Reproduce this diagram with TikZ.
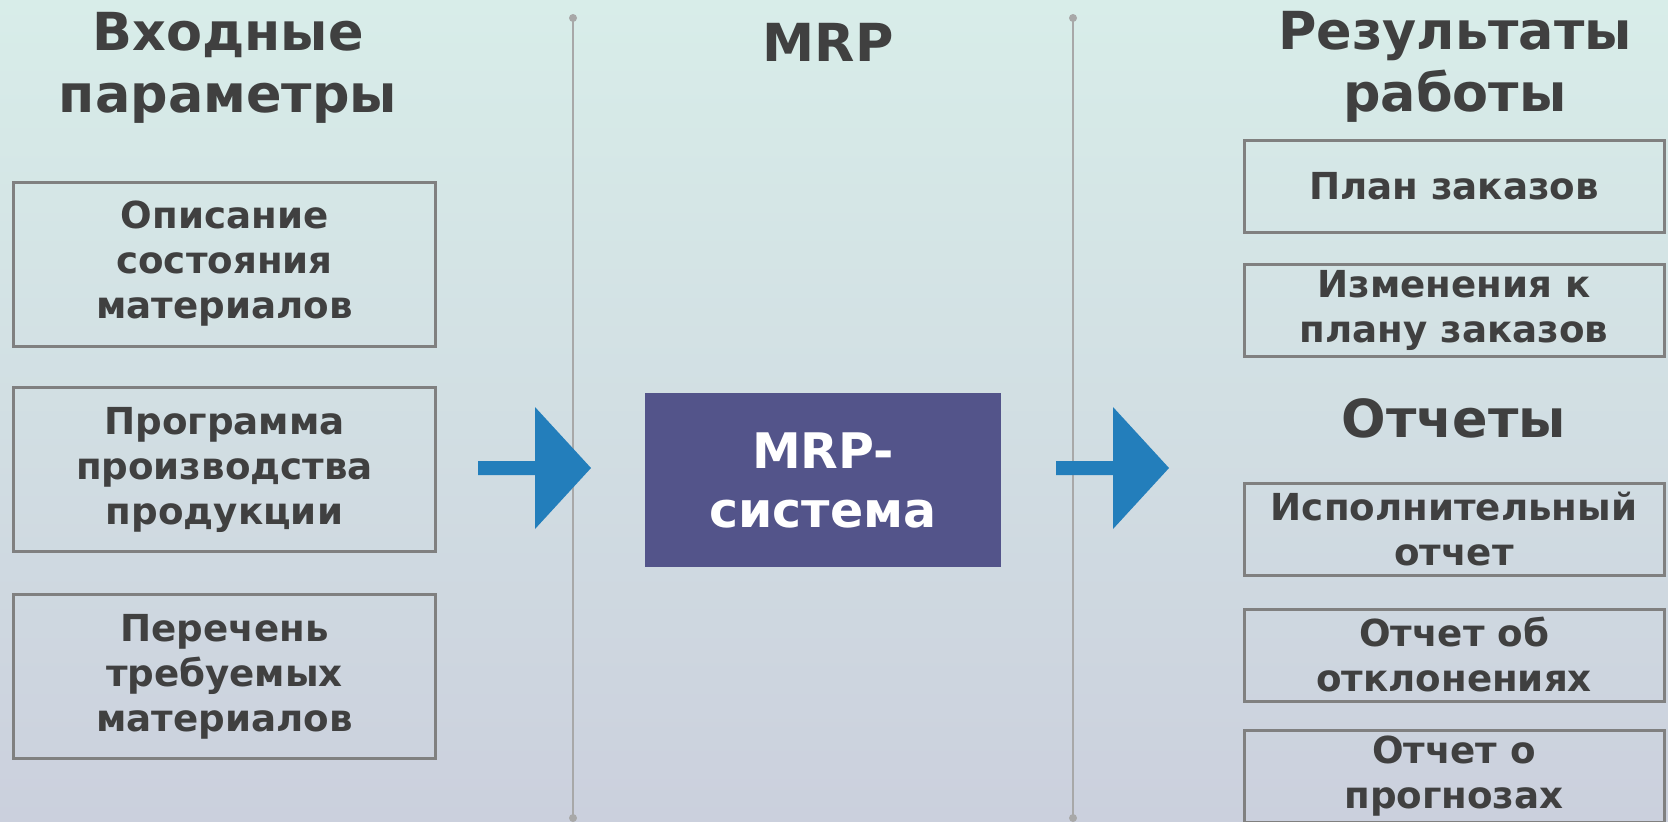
\documentclass[tikz,border=0pt]{standalone}
\usepackage{fontspec}
\setmainfont{DejaVu Sans}
\usetikzlibrary{calc}
\definecolor{bgtop}{RGB}{216,237,233}
\definecolor{bgbottom}{RGB}{203,208,221}
\definecolor{boxgray}{RGB}{128,128,128}
\definecolor{textgray}{RGB}{64,64,64}
\definecolor{mrpviolet}{RGB}{83,84,138}
\definecolor{arrowblue}{RGB}{35,126,187}
\definecolor{linegray}{RGB}{168,168,168}

\begin{document}
\begin{tikzpicture}[x=0.5pt, y=-0.5pt,
    headline/.style={text=textgray, align=center, inner sep=0pt, font=\fontsize{26.2pt}{31pt}\selectfont\bfseries},
    inbox/.style={draw=boxgray, line width=1.5pt, minimum width=211pt, minimum height=82pt, inner sep=0pt,
        text=textgray, align=center, font=\fontsize{18.6pt}{22.5pt}\selectfont\bfseries},
    outbox/.style={inbox, minimum width=210pt, minimum height=46pt},
    sysbox/.style={fill=mrpviolet, minimum width=178pt, minimum height=87pt, inner sep=0pt,
        text=white, align=center, font=\fontsize{24.5pt}{29.5pt}\selectfont\bfseries}]
        % Background
        \useasboundingbox (0,0) rectangle (1668,821);
        \clip (0,0) rectangle (1668,821);
        \shade[top color=bgtop, bottom color=bgbottom] (0,0) rectangle (1668,821);

        % Column dividers
        \coordinate (divAtop) at (573,18);
        \coordinate (divAbot) at (573,818);
        \coordinate (divBtop) at (1073,18);
        \coordinate (divBbot) at (1073,818);
        \draw[linegray, line width=1pt] (divAtop) -- (divAbot);
        \draw[linegray, line width=1pt] (divBtop) -- (divBbot);
        \foreach \p in {divAtop,divAbot,divBtop,divBbot}
            \fill[linegray] (\p) circle[radius=2pt];

        % Column headings
        \node[headline] (headIn) at (228,68) {Входные\\параметры};
        \node[headline, anchor=base] (headMrp) at (828,61) {MRP};
        \node[headline] (headOut) at (1455,67) {Результаты\\работы};
        \node[headline, anchor=base] (headRep) at (1454,437) {Отчеты};

        % Input boxes
        \node[inbox] (inState) at (224.5,264) {Описание\\состояния\\материалов};
        \node[inbox] (inProg) at (224.5,469.5) {Программа\\производства\\продукции};
        \node[inbox] (inList) at (224.5,676.5) {Перечень\\требуемых\\материалов};

        % System box
        \node[sysbox] (mrpSys) at (823,480) {MRP-\\система};

        % Output boxes
        \node[outbox] (outPlan) at (1454,186) {План заказов};
        \node[outbox] (outChange) at (1454,310.5) {Изменения к\\плану заказов};
        \node[outbox] (outExec) at (1454,529.5) {Исполнительный\\отчет};
        \node[outbox] (outDev) at (1454,655) {Отчет об\\отклонениях};
        \node[outbox] (outFcst) at (1454,776.5) {Отчет о\\прогнозах};

        % Block arrows
        \coordinate (arrAstart) at (478,468);
        \coordinate (arrBstart) at (1056,468);
        \foreach \a in {arrAstart,arrBstart}
            \fill[arrowblue] (\a) ++(0,-7) -- ++(57,0) -- ++(0,-54) -- ++(56,61)
                -- ++(-56,61) -- ++(0,-54) -- ++(-57,0) -- cycle;
\end{tikzpicture}
\end{document}
